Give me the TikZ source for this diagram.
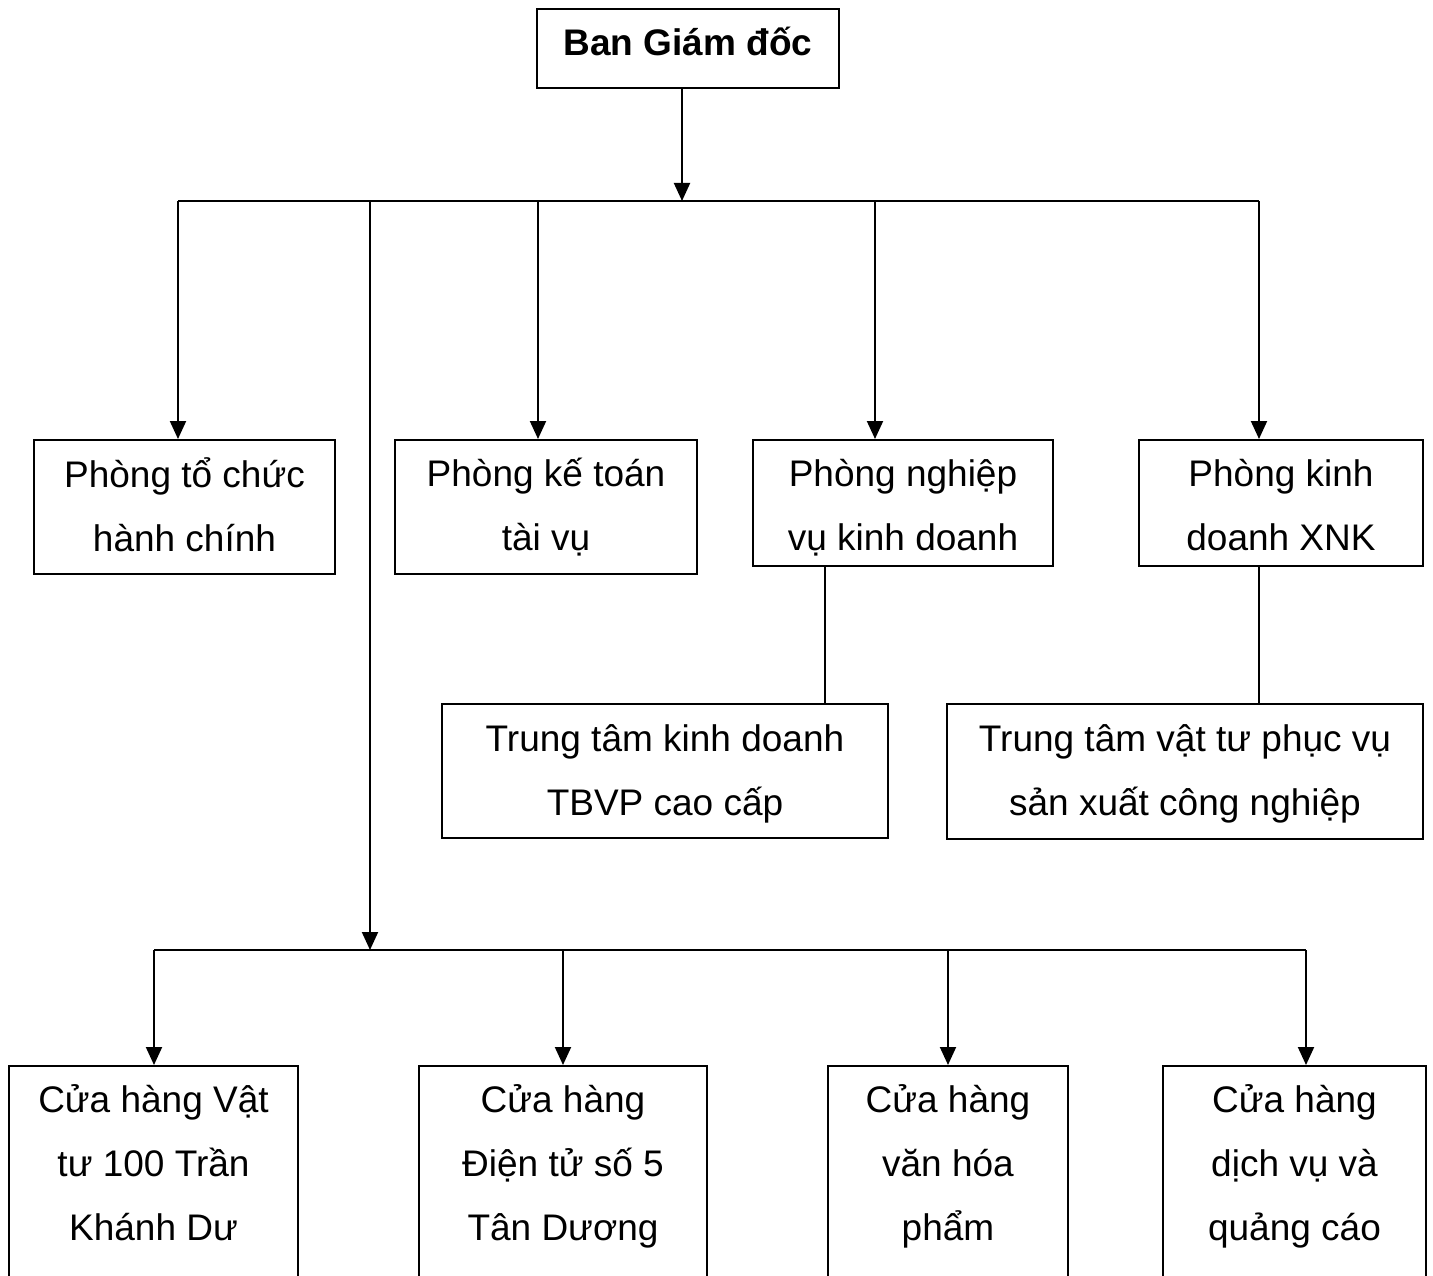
\documentclass[tikz,border=0pt]{standalone}
\usepackage{fontspec}
\setmainfont{Liberation Sans}
\usetikzlibrary{arrows.meta}
% fixed-height strut at the start and end of every label, so that a label's
% centre sits a known distance above the middle of its first and last baselines
\newcommand\labelstrut{\rule[-15pt]{0pt}{55pt}}
\begin{document}
\begin{tikzpicture}[x=1pt,y=-1pt,
  box/.style={draw, line width=2pt, inner sep=0pt},
  lbl/.style={inner sep=0pt, align=center,
    font=\fontsize{37}{64}\selectfont,
    execute at begin node=\labelstrut, execute at end node=\labelstrut},
  wire/.style={line width=2pt},
  thinwire/.style={line width=1.3pt},
  arr/.style={wire, -{Triangle[length=18pt,width=16pt]}}]
\useasboundingbox (0,0) rectangle (1433,1276);
\clip (0,0) rectangle (1433,1276);

% ---- director ----
\node[box, minimum width=302pt, minimum height=79pt] (bgd) at (688,48.5) {};
\node[lbl, font=\fontsize{37}{64}\selectfont\bfseries] (bgd-t) at (688,43) {Ban Giám đốc};

% ---- departments ----
\node[box, minimum width=301pt, minimum height=134pt] (tc) at (184.5,507) {};
\node[lbl] (tc-t) at (184.5,512) {Phòng tổ chức\\hành chính};

\node[box, minimum width=302pt, minimum height=134pt] (kt) at (546,507) {};
\node[lbl] (kt-t) at (546,512) {Phòng kế toán\\tài vụ};

\node[box, minimum width=300pt, minimum height=126pt] (nv) at (903,503) {};
\node[lbl] (nv-t) at (903,512) {Phòng nghiệp\\vụ kinh doanh};

\node[box, minimum width=284pt, minimum height=126pt] (xnk) at (1281,503) {};
\node[lbl] (xnk-t) at (1281,512) {Phòng kinh\\doanh XNK};

% ---- centres ----
\node[box, minimum width=446pt, minimum height=134pt] (tbvp) at (665,771) {};
\node[lbl] (tbvp-t) at (665,778) {Trung tâm kinh doanh\\TBVP cao cấp};

\node[box, minimum width=476pt, minimum height=135pt] (vt) at (1185,771.5) {};
\node[lbl] (vt-t) at (1185,778) {Trung tâm vật tư phục vụ\\sản xuất công nghiệp};

% ---- shops (boxes run past the lower edge) ----
\node[box, anchor=north, minimum width=289pt, minimum height=300pt] (ch1) at (153.5,1065) {};
\node[lbl] (ch1-t) at (153.5,1170) {Cửa hàng Vật\\tư 100 Trần\\Khánh Dư};

\node[box, anchor=north, minimum width=288pt, minimum height=300pt] (ch2) at (563,1065) {};
\node[lbl] (ch2-t) at (563,1170) {Cửa hàng\\Điện tử số 5\\Tân Dương};

\node[box, anchor=north, minimum width=240pt, minimum height=300pt] (ch3) at (948,1065) {};
\node[lbl] (ch3-t) at (948,1170) {Cửa hàng\\văn hóa\\phẩm};

\node[box, anchor=north, minimum width=263pt, minimum height=300pt] (ch4) at (1294.5,1065) {};
\node[lbl] (ch4-t) at (1294.5,1170) {Cửa hàng\\dịch vụ và\\quảng cáo};

% ---- upper bus ----
\coordinate (hub) at (682,201);
\coordinate (busL) at (178,201);
\coordinate (busR) at (1259,201);
\coordinate (dShop) at (370,201);
\coordinate (dKt) at (538,201);
\coordinate (dNv) at (875,201);
\draw[wire] (busL) -- (busR);
\draw[arr] (hub |- bgd.south) -- (hub);
\draw[arr] (busL) -- (busL |- tc.north);
\draw[arr] (dKt) -- (dKt |- kt.north);
\draw[arr] (dNv) -- (dNv |- nv.north);
\draw[arr] (busR) -- (busR |- xnk.north);

% ---- department to centre links ----
\coordinate (lNv) at (825,0);
\draw[thinwire] (lNv |- nv.south) -- (lNv |- tbvp.north);
\draw[thinwire] (busR |- xnk.south) -- (busR |- vt.north);

% ---- lower bus ----
\coordinate (shopHub) at (370,950);
\coordinate (sbL) at (154,950);
\coordinate (sbR) at (1306,950);
\coordinate (s2) at (563,950);
\coordinate (s3) at (948,950);
\draw[arr] (dShop) -- (shopHub);
\draw[wire] (sbL) -- (sbR);
\draw[arr] (sbL) -- (sbL |- ch1.north);
\draw[arr] (s2) -- (s2 |- ch2.north);
\draw[arr] (s3) -- (s3 |- ch3.north);
\draw[arr] (sbR) -- (sbR |- ch4.north);
\end{tikzpicture}
\end{document}
